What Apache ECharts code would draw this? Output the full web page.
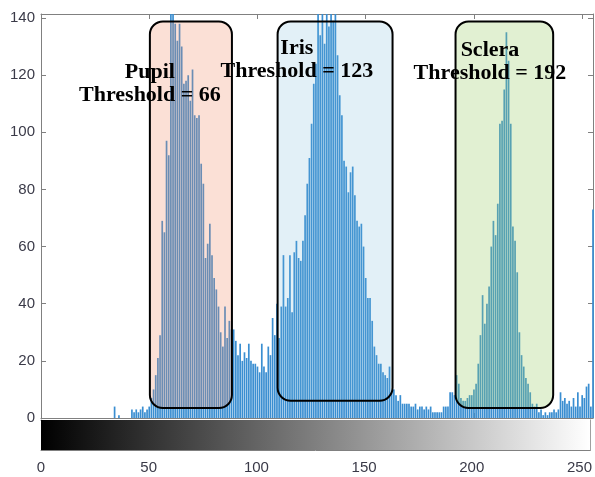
<!DOCTYPE html>
<html>
<head>
<meta charset="utf-8">
<script src="https://cdn.jsdelivr.net/npm/echarts@6/dist/echarts.min.js"></script>
<style>
  html, body { margin: 0; padding: 0; background: #fff; }
  #chart { width: 595px; height: 477px; }
</style>
</head>
<body>
<div id="chart"></div>
<script>
// histogram counts, one per grey level 0..255
const counts = [
  0, 0, 0, 0, 0, 0, 0, 0, 0, 0,
  0, 0, 0, 0, 0, 0, 0, 0, 0, 0,
  0, 0, 0, 0, 0, 0, 0, 0, 0, 0,
  0, 0, 0, 0, 4, 0, 1, 0, 0, 0,
  0, 0, 3, 2, 3, 2, 3, 4, 2, 3,
  4, 7, 10, 15, 21, 29, 69, 65, 97, 92,
  143, 143, 138, 132, 138, 130, 117, 118, 120, 111,
  122, 106, 105, 106, 89, 82, 56, 61, 68, 57,
  49, 45, 39, 30, 25, 39, 28, 34, 31, 31,
  27, 22, 26, 20, 23, 21, 26, 20, 19, 19,
  18, 16, 26, 18, 16, 25, 22, 35, 29, 40,
  28, 39, 57, 39, 42, 57, 37, 58, 62, 56,
  55, 62, 71, 82, 91, 103, 117, 124, 143, 134,
  143, 131, 143, 137, 143, 139, 143, 127, 113, 106,
  90, 88, 79, 86, 88, 78, 69, 67, 68, 60,
  49, 42, 42, 34, 25, 22, 19, 19, 16, 15,
  14, 18, 9, 10, 8, 6, 8, 5, 5, 5,
  5, 4, 4, 5, 3, 4, 4, 3, 4, 3,
  4, 2, 2, 2, 2, 2, 4, 4, 4, 9,
  9, 8, 15, 12, 7, 6, 6, 7, 8, 8,
  10, 12, 19, 29, 43, 33, 40, 46, 60, 69,
  64, 75, 103, 104, 115, 135, 125, 103, 67, 62,
  51, 30, 22, 18, 14, 12, 9, 5, 4, 5,
  2, 3, 1, 2, 1, 2, 2, 3, 2, 3,
  9, 6, 7, 5, 6, 4, 7, 4, 9, 4,
  8, 7, 11, 12, 4, 73
];
const levels = counts.map((_, i) => i);

// highlighted regions (grey level span, count span) and their labels
const regionNames = ['Pupil', 'Iris', 'Sclera'];
const thresholds = [66, 123, 192];
const regionFrom = [50.3, 109.3, 191.5];
const regionTo = [88.2, 162.4, 236.6];
const regionLow = [3.5, 6, 3.5];
const regionHigh = [138.8, 138.8, 138.8];
const labelLevel = [50.3, 118.2, 207.4];
const labelCount = [117, 125.5, 124.6];
const regionFill = ['rgba(240,141,104,0.27)', 'rgba(110,180,215,0.2)', 'rgba(155,205,105,0.3)'];

const chart = echarts.init(document.getElementById('chart'));
const gray = '#808080';

function frameAxis(extra) {
  return Object.assign({
    type: 'value',
    axisLine: { show: true, onZero: false, lineStyle: { color: gray, width: 1 } },
    axisTick: { show: true, inside: true, length: 5, lineStyle: { color: gray } },
    axisLabel: { show: false },
    splitLine: { show: false }
  }, extra);
}

const labelFont = { color: '#3a3a48', fontSize: 15, fontFamily: 'Liberation Sans' };

chart.setOption({
  animation: false,
  grid: [
    { left: 41, right: 2, top: 14, bottom: 59 },
    { left: 41, right: 2, top: 420, height: 30 }
  ],
  xAxis: [
    frameAxis({ gridIndex: 0, min: 0, max: 255, interval: 50, position: 'bottom' }),
    frameAxis({ gridIndex: 0, min: 0, max: 255, interval: 50, position: 'top' }),
    frameAxis({ gridIndex: 1, min: 0, max: 255, interval: 50, position: 'bottom',
      axisLabel: Object.assign({ show: true, margin: 10 }, labelFont) }),
    frameAxis({ gridIndex: 1, min: 0, max: 255, interval: 50, position: 'top' })
  ],
  yAxis: [
    frameAxis({ gridIndex: 0, min: 0, max: 141.4, interval: 20, position: 'left',
      axisLabel: Object.assign({ show: true, margin: 6, showMaxLabel: false }, labelFont) }),
    frameAxis({ gridIndex: 0, min: 0, max: 141.4, interval: 20, position: 'right' }),
    frameAxis({ gridIndex: 1, min: 0, max: 1, position: 'left', axisTick: { show: false } }),
    frameAxis({ gridIndex: 1, min: 0, max: 1, position: 'right', axisTick: { show: false } })
  ],
  series: [
    {
      // grey-level colour strip under the histogram, black (0) to white (255)
      type: 'custom',
      xAxisIndex: 2,
      yAxisIndex: 2,
      data: [[levels[0], levels[levels.length - 1]]],
      encode: { x: [0, 1] },
      renderItem: function (params, api) {
        const a = api.coord([api.value(0), 1]);
        const b = api.coord([api.value(1), 0]);
        return {
          type: 'rect',
          shape: { x: a[0], y: a[1], width: b[0] - a[0], height: b[1] - a[1] },
          style: {
            fill: new echarts.graphic.LinearGradient(0, 0, 1, 0, [
              { offset: 0, color: '#000' },
              { offset: 1, color: '#fff' }
            ])
          }
        };
      },
      z: 1
    },
    {
      type: 'bar',
      xAxisIndex: 0,
      yAxisIndex: 0,
      data: levels.map(l => [l, counts[l]]),
      barWidth: 1.7,
      itemStyle: { color: '#3a8ed1' },
      clip: true,
      z: 2
    },
    {
      type: 'custom',
      xAxisIndex: 0,
      yAxisIndex: 0,
      data: regionNames.map((n, k) => [regionFrom[k], regionTo[k], regionLow[k], regionHigh[k], k]),
      encode: { x: [0, 1], y: [2, 3] },
      renderItem: function (params, api) {
        const p0 = api.coord([api.value(0), api.value(3)]);
        const p1 = api.coord([api.value(1), api.value(2)]);
        return {
          type: 'rect',
          shape: { x: p0[0], y: p0[1], width: p1[0] - p0[0], height: p1[1] - p0[1], r: 13 },
          style: { fill: regionFill[api.value(4)], stroke: '#000', lineWidth: 2 }
        };
      },
      z: 3
    },
    {
      type: 'scatter',
      xAxisIndex: 0,
      yAxisIndex: 0,
      symbolSize: 0,
      itemStyle: { opacity: 1 },
      data: regionNames.map((n, k) => ({ name: n, value: [labelLevel[k], labelCount[k]] })),
      label: {
        show: true,
        position: 'inside',
        formatter: p => p.name + '\nThreshold = ' + thresholds[p.dataIndex],
        fontFamily: 'Liberation Serif',
        fontWeight: 'bold',
        fontSize: 22,
        lineHeight: 23,
        color: '#000',
        textBorderWidth: 0,
        align: 'center'
      },
      z: 4
    }
  ]
});
</script>
</body>
</html>
